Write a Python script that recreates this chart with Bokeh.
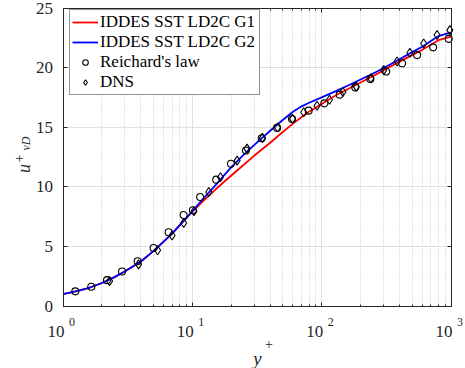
import numpy as np
from bokeh.plotting import figure
from bokeh.models import (FixedTicker, LinearAxis, LogAxis, Legend, LegendItem, Label,
                          Range1d, Grid)
from bokeh.embed import file_html
from bokeh.resources import INLINE

# Mean velocity profiles, u+_vD against y+
yplus_curve = [1, 1.25, 1.6, 2, 2.5, 3, 4, 5, 6, 7, 8.5, 10, 12, 15, 20, 25, 30, 40,
               50, 60, 70, 80, 100, 130, 160, 200, 250, 300, 400, 500, 600, 800, 1000]
u_g1 = [1.0, 1.23, 1.53, 1.93, 2.42, 2.9, 3.73, 4.6, 5.4, 6.1, 7.1, 7.9, 8.75, 9.75,
        10.95, 11.85, 12.6, 13.7, 14.6, 15.3, 15.85, 16.3, 16.95, 17.7, 18.2, 18.75,
        19.3, 19.75, 20.5, 21.05, 21.5, 22.3, 22.6]
u_g2 = [1.0, 1.23, 1.53, 1.93, 2.42, 2.9, 3.73, 4.6, 5.4, 6.1, 7.1, 7.95, 8.95, 10.1,
        11.65, 12.7, 13.5, 14.7, 15.6, 16.3, 16.75, 17.05, 17.5, 18.05, 18.5, 19.0,
        19.5, 19.95, 20.7, 21.3, 21.75, 22.65, 22.95]

yplus_reichard = [1.245, 1.655, 2.19, 2.86, 3.78, 5.02, 6.56, 8.57, 10.1, 11.5, 15.3,
                  19.9, 26.0, 34.4, 45.2, 59.0, 79.3, 105, 138, 182, 238, 316, 419,
                  547, 728, 960]
u_reichard = [1.23, 1.61, 2.17, 2.90, 3.76, 4.87, 6.19, 7.63, 8.03, 9.14, 10.6, 11.93,
              13.04, 14.07, 14.94, 15.69, 16.39, 17.0, 17.73, 18.34, 19.04, 19.67,
              20.36, 21.05, 21.70, 22.41]

yplus_dns = [2.29, 3.84, 5.39, 6.97, 8.57, 10.3, 13.4, 16.5, 22.2, 26.5, 34.8, 45.5,
             59.5, 72.6, 92.1, 115, 146, 185, 240, 302, 383, 481, 615, 780, 980]
u_dns = [2.09, 3.49, 4.68, 5.91, 6.96, 7.95, 9.56, 10.8, 12.2, 13.2, 14.1, 14.97,
         15.7, 16.25, 16.8, 17.3, 17.95, 18.4, 19.1, 19.79, 20.51, 21.24, 22.02,
         22.74, 23.14]

x_major = [1, 10, 100, 1000]
x_exponents = ["0", "1", "2", "3"]
y_major = [0, 5, 10, 15, 20, 25]

X_LO, X_HI = 1, 1000
Y_LO, Y_HI = 0, 25

# canvas size and where the axes box sits on it (pixels from top-left)
W, H = 465, 368
BOX_L, BOX_R, BOX_T, BOX_B = 62.5, 450.5, 7.5, 305.5

INK = "#262626"
SERIF = "Liberation Serif"

# the frame spans the whole canvas; ranges are widened so the axes box lands on BOX_*
dec_per_px = (np.log10(X_HI) - np.log10(X_LO)) / (BOX_R - BOX_L)
unit_per_px = (Y_HI - Y_LO) / (BOX_B - BOX_T)
x_range = Range1d(float(10 ** (np.log10(X_LO) - BOX_L * dec_per_px)),
                  float(10 ** (np.log10(X_HI) + (W - BOX_R) * dec_per_px)))
y_range = Range1d(float(Y_LO - (H - BOX_B) * unit_per_px),
                  float(Y_HI + BOX_T * unit_per_px))


def px_x(sx):
    """canvas x pixel -> data x"""
    return float(10 ** (np.log10(X_LO) + (sx - BOX_L) * dec_per_px))


def px_y(sy):
    """canvas y pixel -> data y"""
    return float(Y_LO + (BOX_B - sy) * unit_per_px)


p = figure(width=W, height=H, x_axis_type="log", x_range=x_range, y_range=y_range,
           min_border=0, title=None, output_backend="svg", toolbar_location=None)
p.outline_line_color = None
p.background_fill_color = "white"
p.border_fill_color = "white"

x_minor = [m * d for d in (1, 10, 100) for m in range(2, 10)]
xticker = FixedTicker(ticks=x_major, minor_ticks=x_minor)
yticker = FixedTicker(ticks=y_major, minor_ticks=[])


def style_axis(ax, fixed, bounds, labels=False):
    ax.fixed_location = fixed
    ax.bounds = bounds
    ax.axis_line_color = INK
    ax.axis_line_width = 1
    ax.major_tick_line_color = INK
    ax.minor_tick_line_color = INK
    ax.major_tick_in = 4
    ax.major_tick_out = 0
    ax.minor_tick_in = 2
    ax.minor_tick_out = 0
    if labels:
        ax.major_label_text_font = SERIF
        ax.major_label_text_font_size = "17px"
        ax.major_label_text_color = INK
        ax.major_label_standoff = 10
    else:
        ax.major_label_text_font_size = "1px"
        ax.major_label_text_alpha = 0
        ax.major_label_standoff = 0


p.xaxis.ticker = xticker
style_axis(p.xaxis[0], Y_LO, (X_LO, X_HI))
p.yaxis.ticker = yticker
style_axis(p.yaxis[0], X_LO, (Y_LO, Y_HI), labels=True)

top_axis = LogAxis(ticker=xticker)
style_axis(top_axis, Y_HI, (X_LO, X_HI))
p.add_layout(top_axis, "above")
right_axis = LinearAxis(ticker=yticker)
style_axis(right_axis, X_HI, (Y_LO, Y_HI))
p.add_layout(right_axis, "right")

# grid: solid at decades / every 5 units, dotted at the minor decades
MAJOR_GRID = "#dfdfdf"
MINOR_GRID = "#c4c4c4"
if "cross_bounds" in Grid.properties():
    p.xgrid.ticker = xticker
    p.xgrid.bounds = (X_LO, X_HI)
    p.xgrid.cross_bounds = (Y_LO, Y_HI)
    p.xgrid.grid_line_color = MAJOR_GRID
    p.xgrid.minor_grid_line_color = MINOR_GRID
    p.xgrid.minor_grid_line_dash = "1 2"
    p.ygrid.ticker = yticker
    p.ygrid.bounds = (Y_LO, Y_HI)
    p.ygrid.cross_bounds = (X_LO, X_HI)
    p.ygrid.grid_line_color = MAJOR_GRID
else:
    p.xgrid.visible = False
    p.ygrid.visible = False
    p.segment(x0=x_minor, y0=Y_LO, x1=x_minor, y1=Y_HI, line_color=MINOR_GRID,
              line_dash="1 2", level="underlay")
    p.segment(x0=x_major[1:-1], y0=Y_LO, x1=x_major[1:-1], y1=Y_HI,
              line_color=MAJOR_GRID, level="underlay")
    p.segment(x0=X_LO, y0=y_major[1:-1], x1=X_HI, y1=y_major[1:-1],
              line_color=MAJOR_GRID, level="underlay")

r_g1 = p.line(yplus_curve, u_g1, line_color="#ff0000", line_width=1.8)
r_g2 = p.line(yplus_curve, u_g2, line_color="#0000ff", line_width=1.8)
r_rei = p.scatter(yplus_reichard, u_reichard, marker="circle", size=7,
                  line_color="black", line_width=1.1, fill_color=None)
r_dns = p.scatter(yplus_dns, u_dns, marker="diamond", size=9,
                  line_color="black", line_width=1.1, fill_color=None)

# legend box: left edge 69 px, bottom edge 95 px from the top
legend = Legend(items=[LegendItem(label="IDDES SST LD2C G1", renderers=[r_g1]),
                       LegendItem(label="IDDES SST LD2C G2", renderers=[r_g2]),
                       LegendItem(label="Reichard's law", renderers=[r_rei]),
                       LegendItem(label="DNS", renderers=[r_dns])],
                location=(69, H - 95), margin=0, padding=2, spacing=0,
                glyph_width=26, glyph_height=14, label_height=14, label_width=157,
                label_standoff=2, label_text_font=SERIF, label_text_font_size="17px",
                label_text_color="black", border_line_color=INK, border_line_width=1,
                background_fill_color="white", background_fill_alpha=1)
p.add_layout(legend)

# decade labels 10^n under the bottom axis
for v, e in zip(x_major, x_exponents):
    p.add_layout(Label(x=v, y=px_y(331), x_offset=-7, text="10", text_align="center",
                       text_baseline="alphabetic", text_font=SERIF,
                       text_font_size="17px", text_color=INK))
    p.add_layout(Label(x=v, y=px_y(321), x_offset=6, text=e, text_align="left",
                       text_baseline="alphabetic", text_font=SERIF,
                       text_font_size="12px", text_color=INK))

# x axis title: y+
p.add_layout(Label(x=px_x(257), y=px_y(357.5), text="y", text_align="center",
                   text_baseline="alphabetic", text_font=SERIF, text_font_style="italic",
                   text_font_size="19px", text_color=INK))
p.add_layout(Label(x=px_x(268.5), y=px_y(343), text="+", text_align="center",
                   text_baseline="middle", text_font=SERIF,
                   text_font_size="14px", text_color=INK))

# y axis title: u+_vD, rotated to read upwards (x positions are the baselines)
rot = float(np.pi / 2)
p.add_layout(Label(x=px_x(23.5), y=px_y(168), text="u", angle=rot, text_align="center",
                   text_baseline="alphabetic", text_font=SERIF, text_font_style="italic",
                   text_font_size="18px", text_color=INK))
p.add_layout(Label(x=px_x(18.5), y=px_y(158), text="+", angle=rot, text_align="center",
                   text_baseline="alphabetic", text_font=SERIF,
                   text_font_size="14px", text_color=INK))
p.add_layout(Label(x=px_x(25.5), y=px_y(143), text="vD", angle=rot, text_align="center",
                   text_baseline="alphabetic", text_font=SERIF, text_font_style="italic",
                   text_font_size="12px", text_color=INK))

open("out.html", "w").write(file_html(p, INLINE))
